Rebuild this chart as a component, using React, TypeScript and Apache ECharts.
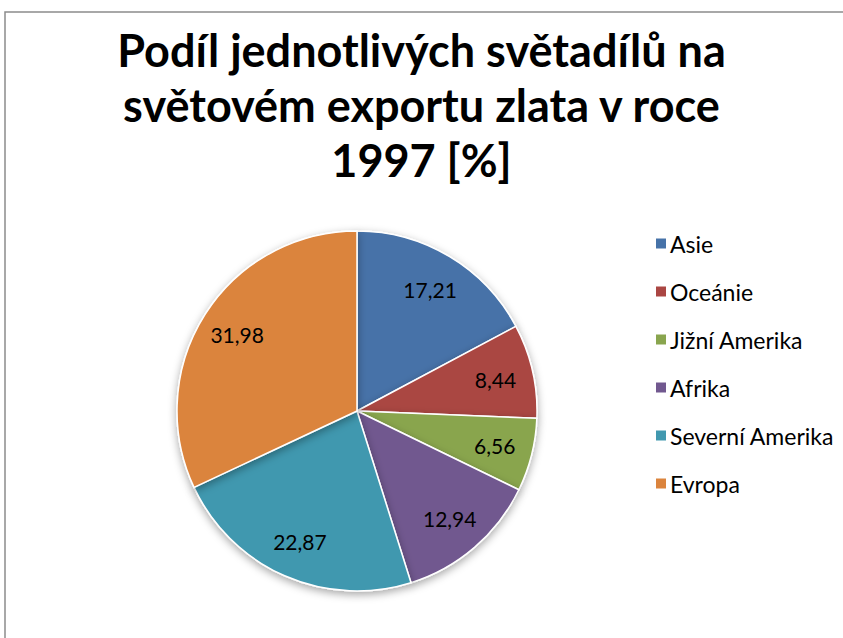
import React, { useEffect, useRef } from "react";
import * as echarts from "echarts";

const categories = ["Asie", "Oceánie", "Jižní Amerika", "Afrika", "Severní Amerika", "Evropa"];
const values = [17.21, 8.44, 6.56, 12.94, 22.87, 31.98];
const colors = ["#4672A8", "#AA4643", "#89A54E", "#71588F", "#4198AF", "#DB843D"];
const titleText = "Podíl jednotlivých světadílů na\nsvětovém exportu zlata v roce\n1997 [%]";

export default function App() {
  const ref = useRef<HTMLDivElement>(null);
  useEffect(() => {
    const chart = echarts.init(ref.current!, null, { renderer: "svg" });
    const data = categories.map((c, i) => ({ name: c, value: values[i] }));
    chart.setOption({
      animation: false,
      color: colors,
      title: {
        text: titleText,
        left: "center",
        top: 17,
        textStyle: {
          fontFamily: "Lato",
          fontWeight: "bold",
          fontSize: 45,
          lineHeight: 55,
          color: "#000",
        },
      },
      legend: {
        orient: "vertical",
        left: 649,
        top: 227,
        itemWidth: 12,
        itemHeight: 12,
        itemGap: 25,
        icon: "rect",
        textStyle: { fontFamily: "Lato", fontSize: 23, color: "#000", padding: [0, 0, 0, -2] },
        data: categories,
      },
      graphic: [
        {
          type: "rect",
          shape: { x: 5, y: 12, width: 900, height: 700 },
          style: { fill: "none", stroke: "#8c8c8c", lineWidth: 1.5 },
          silent: true,
        },
      ],
      series: [
        {
          type: "pie",
          center: [357, 411],
          radius: [0, 180],
          startAngle: 90,
          clockwise: true,
          data,
          label: { show: false },
          labelLine: { show: false },
          itemStyle: {
            borderColor: "#fff",
            borderWidth: 1.5,
            shadowBlur: 8,
            shadowColor: "rgba(0,0,0,0.35)",
            shadowOffsetY: 3,
          },
          emphasis: { disabled: true },
        },
        {
          type: "pie",
          center: [357, 411],
          radius: [98, 180],
          startAngle: 90,
          clockwise: true,
          silent: true,
          data,
          itemStyle: { color: "rgba(0,0,0,0)", borderWidth: 0 },
          label: {
            show: true,
            position: "inside",
            formatter: (p: any) => String(p.value).replace(".", ","),
            fontFamily: "Lato",
            fontSize: 21,
            color: "#000",
          },
          labelLine: { show: false },
          emphasis: { disabled: true },
        },
      ],
    });
    return () => chart.dispose();
  }, []);
  return <div ref={ref} style={{ position: "fixed", left: 0, top: 0, width: 843, height: 638, background: "#fff" }} />;
}
